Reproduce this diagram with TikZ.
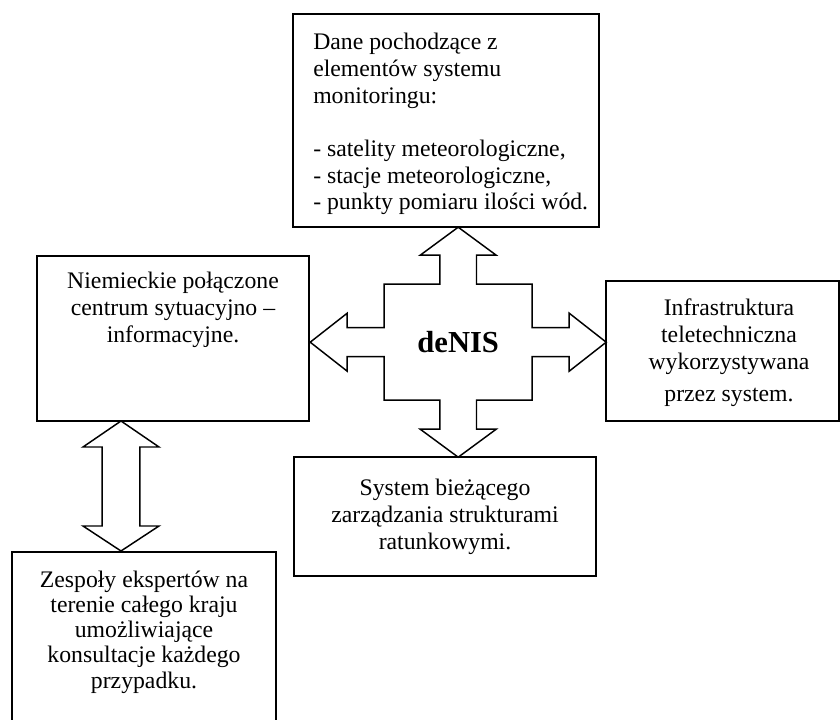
\documentclass[tikz,border=0pt]{standalone}
\usepackage{fontspec}
\setmainfont{Liberation Serif}
\usetikzlibrary{calc}
\tikzset{
  box/.style={draw, line width=1.1pt, inner sep=0pt, rectangle},
  txt/.style={inner sep=0pt, font=\fontsize{17.8}{20}\selectfont},
  blockarrow/.style={draw, line width=1.1pt, fill=white, line join=miter}
}
\begin{document}
\begin{tikzpicture}[x=0.75pt, y=-0.75pt]
\useasboundingbox (0,0) rectangle (840,720);
% boxes
\node[box, minimum width=229.5pt, minimum height=159.75pt] (top) at (446,120.5) {};
\node[box, minimum width=204pt, minimum height=123.75pt] (left) at (173,338.5) {};
\node[box, minimum width=174.75pt, minimum height=105pt] (right) at (722.5,351) {};
\node[box, minimum width=226.5pt, minimum height=89.25pt] (bottom) at (445,516.5) {};
\node[box, minimum width=198pt, minimum height=133.5pt] (zes) at (144,641) {};
% texts
\node[txt, anchor=north west, align=left] (toptxt) at (313,33)
  {Dane pochodzące z\\elementów systemu\\monitoringu:\\[20pt]- satelity meteorologiczne,\\- stacje meteorologiczne,\\- punkty pomiaru ilości wód.};
\node[txt, anchor=north, align=center] (lefttxt) at (173,272)
  {Niemieckie połączone\\centrum sytuacyjno –\\informacyjne.};
\node[txt, anchor=north, align=center] (righttxt) at (729,299)
  {Infrastruktura\\teletechniczna\\wykorzystywana\\[4pt]przez system.};
\node[txt, anchor=north, align=center] (bottomtxt) at (445,479)
  {System bieżącego\\zarządzania strukturami\\ratunkowymi.};
\node[txt, anchor=north, align=center, font=\fontsize{17.8}{18.8}\selectfont] (zestxt) at (144,571)
  {Zespoły ekspertów na\\terenie całego kraju\\umożliwiające\\konsultacje każdego\\przypadku.};
% cross arrow
\coordinate (C) at (458.2,342.2);
\begin{scope}[shift={(C)}]
\draw[blockarrow] (0,-115) -- (38,-87) -- (18.3,-87) -- (18.3,-58) -- (74,-58) -- (74,-14.5)
  -- (111,-14.5) -- (111,-29) -- (148,0) -- (111,29) -- (111,14.5) -- (74,14.5) -- (74,58)
  -- (18.3,58) -- (18.3,87) -- (38,87) -- (0,115) -- (-38,87) -- (-18.3,87) -- (-18.3,58)
  -- (-74,58) -- (-74,14.5) -- (-111,14.5) -- (-111,29) -- (-148,0) -- (-111,-29)
  -- (-111,-14.5) -- (-74,-14.5) -- (-74,-58) -- (-18.3,-58) -- (-18.3,-87) -- (-38,-87) -- cycle;
\end{scope}
\node[inner sep=0pt, font=\fontsize{22.9}{26}\selectfont\bfseries] (denis) at (C) {deNIS};
% vertical double arrow
\coordinate (va) at (121,421);
\coordinate (vb) at (121,551);
\draw[blockarrow] (va) -- ($(va)+(38,26)$) -- ($(va)+(18.8,26)$) -- ($(vb)+(18.8,-25)$)
  -- ($(vb)+(38,-25)$) -- (vb) -- ($(vb)+(-38,-25)$) -- ($(vb)+(-18.8,-25)$)
  -- ($(va)+(-18.8,26)$) -- ($(va)+(-38,26)$) -- cycle;
\end{tikzpicture}
\end{document}
